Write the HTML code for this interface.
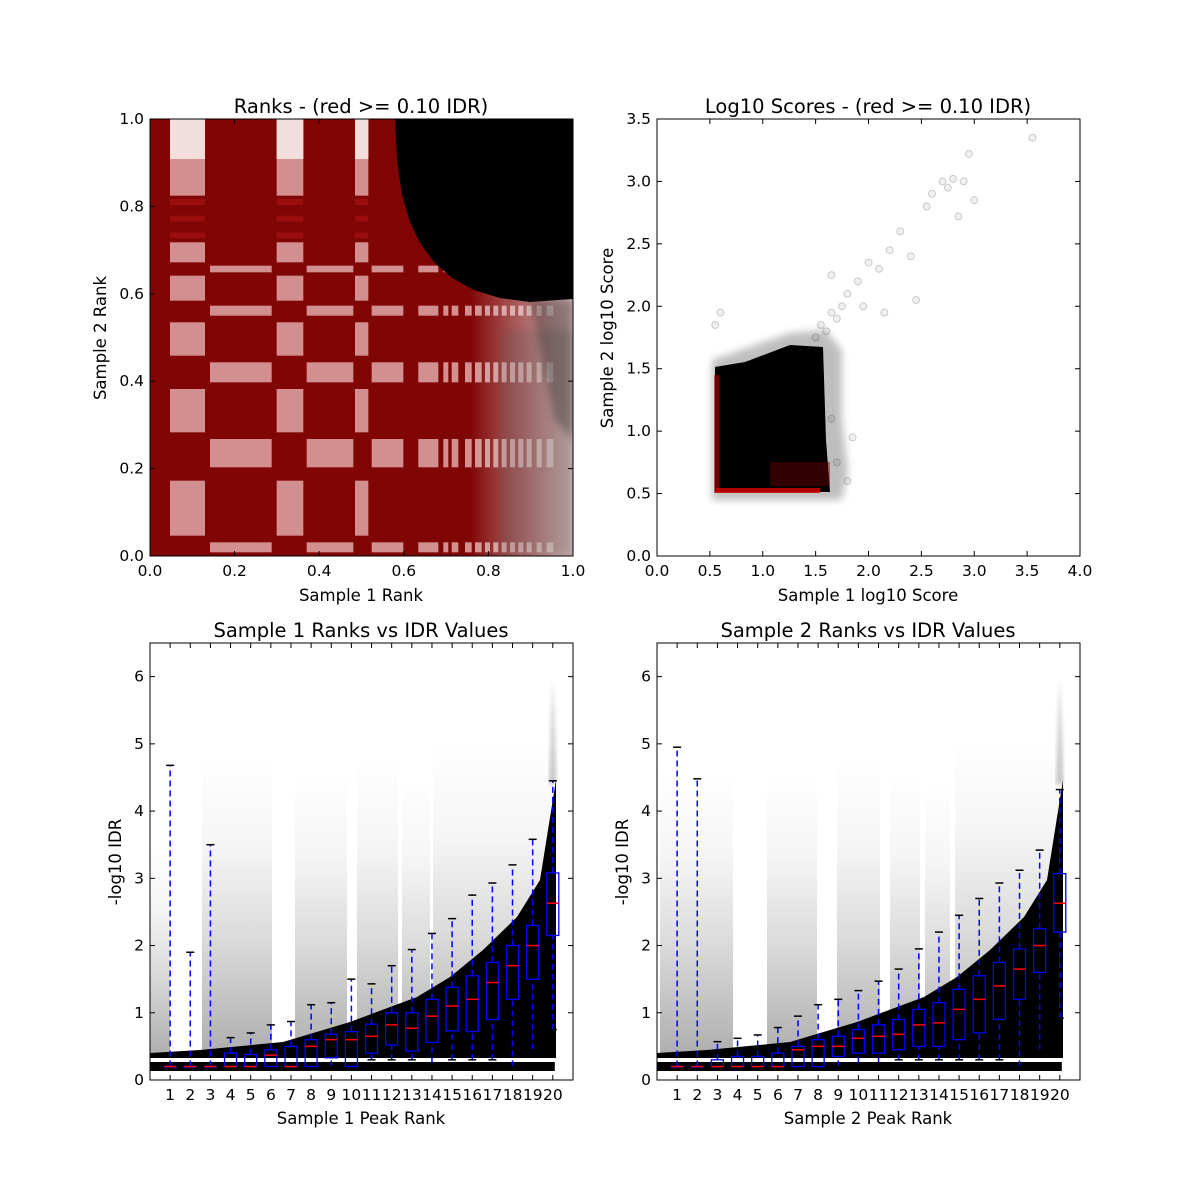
<!DOCTYPE html>
<html><head><meta charset="utf-8"><style>
html,body{margin:0;padding:0;background:#fff}
svg{display:block}
text{font-family:"DejaVu Sans","Liberation Sans",sans-serif;fill:#000}
</style></head><body>
<svg id="s" width="1200" height="1200" viewBox="0 0 1200 1200" xmlns="http://www.w3.org/2000/svg">
<defs>
<linearGradient id="gv" x1="0" y1="1" x2="0" y2="0">
<stop offset="0" stop-color="#000" stop-opacity="0.32"/>
<stop offset="0.4" stop-color="#000" stop-opacity="0.14"/>
<stop offset="0.7" stop-color="#000" stop-opacity="0.04"/>
<stop offset="1" stop-color="#000" stop-opacity="0"/>
</linearGradient>
<linearGradient id="gr" x1="0" y1="0" x2="1" y2="0">
<stop offset="0" stop-color="#fff" stop-opacity="0"/>
<stop offset="1" stop-color="#ddd" stop-opacity="0.8"/>
</linearGradient>
<clipPath id="c1"><rect x="150" y="119" width="423" height="437"/></clipPath>
<clipPath id="c3"><rect x="150" y="643" width="423" height="437"/></clipPath>
<clipPath id="c4"><rect x="657" y="643" width="423" height="437"/></clipPath>
<filter id="blur"><feGaussianBlur stdDeviation="2"/></filter>
<filter id="blur4"><feGaussianBlur stdDeviation="4"/></filter>
</defs>
<g id="tl" clip-path="url(#c1)"></g>
<g id="tr"></g>
<g id="bl" clip-path="url(#c3)"></g>
<g id="br" clip-path="url(#c4)"></g>
<g id="axes" fill="none" stroke="#000" stroke-width="1"></g>

<text x="361" y="113" font-size="19.5" text-anchor="middle">Ranks - (red &gt;= 0.10 IDR)</text>
<text x="868" y="113" font-size="19.5" text-anchor="middle">Log10 Scores - (red &gt;= 0.10 IDR)</text>
<text x="361" y="637" font-size="19.5" text-anchor="middle">Sample 1 Ranks vs IDR Values</text>
<text x="868" y="637" font-size="19.5" text-anchor="middle">Sample 2 Ranks vs IDR Values</text>

<text x="361" y="601" font-size="16.5" text-anchor="middle">Sample 1 Rank</text>
<text x="868" y="601" font-size="16.5" text-anchor="middle">Sample 1 log10 Score</text>
<text x="361" y="1124" font-size="16.5" text-anchor="middle">Sample 1 Peak Rank</text>
<text x="868" y="1124" font-size="16.5" text-anchor="middle">Sample 2 Peak Rank</text>

<text transform="translate(106,338) rotate(-90)" font-size="16.5" text-anchor="middle">Sample 2 Rank</text>
<text transform="translate(613,338) rotate(-90)" font-size="16.5" text-anchor="middle">Sample 2 log10 Score</text>
<text transform="translate(121,862) rotate(-90)" font-size="16.5" text-anchor="middle">-log10 IDR</text>
<text transform="translate(628,862) rotate(-90)" font-size="16.5" text-anchor="middle">-log10 IDR</text>

<g font-size="15.5">
<text x="150" y="576" text-anchor="middle">0.0</text><text x="234.6" y="576" text-anchor="middle">0.2</text><text x="319.2" y="576" text-anchor="middle">0.4</text><text x="403.8" y="576" text-anchor="middle">0.6</text><text x="488.4" y="576" text-anchor="middle">0.8</text><text x="573" y="576" text-anchor="middle">1.0</text>
<text x="144" y="561" text-anchor="end">0.0</text><text x="144" y="473.6" text-anchor="end">0.2</text><text x="144" y="386.2" text-anchor="end">0.4</text><text x="144" y="298.8" text-anchor="end">0.6</text><text x="144" y="211.4" text-anchor="end">0.8</text><text x="144" y="124" text-anchor="end">1.0</text>
<text x="657" y="576" text-anchor="middle">0.0</text><text x="709.9" y="576" text-anchor="middle">0.5</text><text x="762.8" y="576" text-anchor="middle">1.0</text><text x="815.6" y="576" text-anchor="middle">1.5</text><text x="868.5" y="576" text-anchor="middle">2.0</text><text x="921.4" y="576" text-anchor="middle">2.5</text><text x="974.3" y="576" text-anchor="middle">3.0</text><text x="1027.1" y="576" text-anchor="middle">3.5</text><text x="1080" y="576" text-anchor="middle">4.0</text>
<text x="651" y="561" text-anchor="end">0.0</text><text x="651" y="498.6" text-anchor="end">0.5</text><text x="651" y="436.1" text-anchor="end">1.0</text><text x="651" y="373.7" text-anchor="end">1.5</text><text x="651" y="311.3" text-anchor="end">2.0</text><text x="651" y="248.9" text-anchor="end">2.5</text><text x="651" y="186.4" text-anchor="end">3.0</text><text x="651" y="124" text-anchor="end">3.5</text>
<text x="144" y="1085" text-anchor="end">0</text><text x="144" y="1017.8" text-anchor="end">1</text><text x="144" y="950.5" text-anchor="end">2</text><text x="144" y="883.3" text-anchor="end">3</text><text x="144" y="816.1" text-anchor="end">4</text><text x="144" y="748.8" text-anchor="end">5</text><text x="144" y="681.6" text-anchor="end">6</text>
<text x="651" y="1085" text-anchor="end">0</text><text x="651" y="1017.8" text-anchor="end">1</text><text x="651" y="950.5" text-anchor="end">2</text><text x="651" y="883.3" text-anchor="end">3</text><text x="651" y="816.1" text-anchor="end">4</text><text x="651" y="748.8" text-anchor="end">5</text><text x="651" y="681.6" text-anchor="end">6</text>
</g>
<g font-size="15.5" text-anchor="middle">
<text x="170.1" y="1100">1</text><text x="190.3" y="1100">2</text><text x="210.4" y="1100">3</text><text x="230.6" y="1100">4</text><text x="250.7" y="1100">5</text><text x="270.9" y="1100">6</text><text x="291" y="1100">7</text><text x="311.1" y="1100">8</text><text x="331.3" y="1100">9</text><text x="351.4" y="1100">10</text><text x="371.6" y="1100">11</text><text x="391.7" y="1100">12</text><text x="411.9" y="1100">13</text><text x="432" y="1100">14</text><text x="452.1" y="1100">15</text><text x="472.3" y="1100">16</text><text x="492.4" y="1100">17</text><text x="512.6" y="1100">18</text><text x="532.7" y="1100">19</text><text x="552.9" y="1100">20</text>
<text x="677.1" y="1100">1</text><text x="697.3" y="1100">2</text><text x="717.4" y="1100">3</text><text x="737.6" y="1100">4</text><text x="757.7" y="1100">5</text><text x="777.9" y="1100">6</text><text x="798" y="1100">7</text><text x="818.1" y="1100">8</text><text x="838.3" y="1100">9</text><text x="858.4" y="1100">10</text><text x="878.6" y="1100">11</text><text x="898.7" y="1100">12</text><text x="918.9" y="1100">13</text><text x="939" y="1100">14</text><text x="959.1" y="1100">15</text><text x="979.3" y="1100">16</text><text x="999.4" y="1100">17</text><text x="1019.6" y="1100">18</text><text x="1039.7" y="1100">19</text><text x="1059.9" y="1100">20</text>
</g>
</svg>
<script>
var NS="http://www.w3.org/2000/svg";
function el(p,t,a){var e=document.createElementNS(NS,t);for(var k in a)e.setAttribute(k,a[k]);document.getElementById(p).appendChild(e);return e;}
// ---- top-left
el('tl','rect',{x:150,y:119,width:423,height:437,fill:'#800606'});
var zx=function(v){return 150+v/3}, zy=function(v){return 119+v/3};
var colA=[[60,165],[380,460],[615,655]], colB=[[180,365],[470,610],[665,760],[805,865],[880,895],[905,925],[945,965],[975,995],[1005,1020],[1030,1045],[1055,1070],[1080,1095],[1105,1120],[1130,1145],[1160,1175],[1190,1210]];
var rowA=[[0,230],[370,430],[470,545],[610,710],[810,940],[1085,1250]], rowB=[[440,460],[560,590],[730,790],[960,1045],[1270,1300]];
function cells(C,R){C.forEach(function(c){R.forEach(function(r){el('tl','rect',{x:zx(c[0]),y:zy(r[0]),width:(c[1]-c[0])/3,height:(r[1]-r[0])/3,fill:'#e2a8a8',opacity:0.85});});});}
cells(colA,rowA);cells(colB,rowB);
[[60,165],[380,460],[615,655]].forEach(function(c){el('tl','rect',{x:zx(c[0]),y:119,width:(c[1]-c[0])/3,height:40,fill:'#f3dede'});
 [240,290,340].forEach(function(r){el('tl','rect',{x:zx(c[0]),y:zy(r),width:(c[1]-c[0])/3,height:6,fill:'#a01010',opacity:0.8});});});
el('tl','rect',{x:470,y:290,width:103,height:266,fill:'url(#gr)'});
el('tl','rect',{x:500,y:330,width:73,height:226,fill:'#555',opacity:0.22,filter:'url(#blur4)'});
el('tl','path',{d:'M395,119 L397,160 L402,195 L410,222 L420,243 L434,262 L452,278 L474,290 L500,298 L530,302 L573,299 L573,119 Z',fill:'#000'});
el('tl','path',{d:'M530,300 L573,300 L573,440 L555,420 Z',fill:'#222',opacity:0.35,filter:'url(#blur4)'});
// ---- top-right
var tx=function(v){return 657+v*105.75}, ty=function(v){return 556-v*124.857};
el('tr','path',{d:'M712,360 L735,352 L790,333 L825,330 L842,350 L842,420 L848,470 L842,500 L712,500 Z',fill:'#000',opacity:0.25,filter:'url(#blur4)'});
el('tr','path',{d:'M715,367 L745,362 L790,345 L823,347 L826,440 L830,492 L715,492 Z',fill:'#000'});
el('tr','rect',{x:714,y:375,width:5,height:118,fill:'#b00000',opacity:0.6});
el('tr','rect',{x:716,y:488,width:104,height:5,fill:'#d00000',opacity:0.85});
el('tr','rect',{x:770,y:462,width:60,height:24,fill:'#6a0000',opacity:0.45});
var pts=[[1.5,1.75],[1.6,1.8],[1.7,1.9],[1.75,2.0],[1.8,2.1],[1.9,2.2],[1.95,2.0],[2.0,2.35],[2.1,2.3],[2.2,2.45],[2.3,2.6],[2.4,2.4],[2.55,2.8],[2.6,2.9],[2.7,3.0],[2.75,2.95],[2.8,3.02],[2.85,2.72],[2.95,3.22],[3.0,2.85],[3.55,3.35],[2.15,1.95],[2.45,2.05],[1.85,0.95],[1.65,1.1],[0.6,1.95],[0.55,1.85],[1.7,0.75],[1.8,0.6],[1.65,2.25],[2.9,3.0],[1.55,1.85],[1.65,1.95]];
pts.forEach(function(p){el('tr','circle',{cx:tx(p[0]),cy:ty(p[1]),r:3.5,fill:'#000','fill-opacity':0.06,stroke:'#000','stroke-opacity':0.18});});
// ---- bottom panels
function bottom(g,x0,cols,boxes,curve){
 var by=function(v){return 1080-v*67.23}, bx=function(i){return x0+20.14*i};
 cols.forEach(function(c){el(g,'rect',{x:c[0],y:by(c[2]),width:c[1]-c[0],height:by(0.35)-by(c[2]),fill:'url(#gv)'});});
 el(g,'rect',{x:x0,y:1062,width:bx(20)+2-x0,height:9,fill:'#000'});
 el(g,'path',{d:curve,fill:'#000'});
 el(g,'path',{d:'M'+(bx(20)-4)+','+by(4.4)+' L'+(bx(20))+','+by(6)+' L'+(bx(20)+4)+','+by(4.4)+' Z',fill:'#000',opacity:0.2,filter:'url(#blur)'});
 boxes.forEach(function(b,k){var i=k+1,x=bx(i),w=6;
  var q1=b[0],md=b[1],q3=b[2],hi=b[3],lo=b[4];
  el(g,'line',{x1:x,y1:by(q3),x2:x,y2:by(hi),stroke:'#00f','stroke-width':1.5,'stroke-dasharray':'6,4'});
  if(lo<q1)el(g,'line',{x1:x,y1:by(lo),x2:x,y2:by(q1),stroke:'#00f','stroke-width':1.5,'stroke-dasharray':'6,4'});
  el(g,'line',{x1:x-4,y1:by(hi),x2:x+4,y2:by(hi),stroke:'#000','stroke-width':1.5});
  if(lo<q1)el(g,'line',{x1:x-4,y1:by(lo),x2:x+4,y2:by(lo),stroke:'#000','stroke-width':1.5});
  el(g,'rect',{x:x-w,y:by(q3),width:2*w,height:Math.max(by(q1)-by(q3),0.5),fill:'none',stroke:'#00f','stroke-width':1.3});
  el(g,'line',{x1:x-w,y1:by(md),x2:x+w,y2:by(md),stroke:'#f00','stroke-width':1.5});
 });
}
var L=[[0.2,0.2,0.2,4.68,0.2],[0.2,0.2,0.2,1.9,0.2],[0.2,0.2,0.2,3.5,0.2],[0.2,0.2,0.4,0.63,0.2],[0.2,0.2,0.38,0.7,0.2],[0.2,0.37,0.45,0.82,0.2],[0.2,0.2,0.5,0.87,0.2],[0.2,0.5,0.6,1.12,0.2],[0.33,0.6,0.68,1.15,0.2],[0.2,0.6,0.72,1.5,0.2],[0.4,0.65,0.83,1.43,0.3],[0.52,0.82,1.0,1.7,0.3],[0.43,0.77,1.0,1.94,0.3],[0.56,0.95,1.2,2.18,0.25],[0.73,1.1,1.38,2.4,0.3],[0.72,1.2,1.55,2.75,0.3],[0.9,1.45,1.75,2.93,0.3],[1.2,1.7,2.0,3.2,0.2],[1.5,2.0,2.3,3.58,0.45],[2.15,2.63,3.08,4.45,0.75]];
var R=[[0.2,0.2,0.2,4.95,0.2],[0.2,0.2,0.2,4.48,0.2],[0.2,0.2,0.3,0.57,0.2],[0.2,0.2,0.35,0.62,0.2],[0.2,0.2,0.35,0.67,0.2],[0.2,0.2,0.4,0.78,0.2],[0.2,0.45,0.5,0.95,0.2],[0.2,0.5,0.6,1.12,0.2],[0.35,0.5,0.65,1.2,0.2],[0.4,0.62,0.75,1.33,0.25],[0.4,0.65,0.82,1.47,0.25],[0.45,0.68,0.9,1.65,0.3],[0.5,0.82,1.05,1.95,0.3],[0.5,0.85,1.15,2.2,0.3],[0.6,1.05,1.35,2.45,0.3],[0.7,1.2,1.55,2.7,0.3],[0.9,1.4,1.75,2.93,0.3],[1.2,1.65,1.95,3.12,0.2],[1.6,2.0,2.25,3.42,0.45],[2.2,2.63,3.07,4.32,0.92]];
function curv(o){var xs=[150,200,283,350,417,450,483,517,540,556],ys=[1053,1050,1042,1022,997,977,950,917,880,780];
 var d='M'+(xs[0]+o)+',1058';for(var i=0;i<xs.length;i++)d+=' L'+(xs[i]+o)+','+ys[i];d+=' L'+(556+o)+',1058 Z';return d;}
bottom('bl',150,[[150,170,3.5],[202,272,4.8],[295,347,4.6],[357,398,4.8],[402,430,4.5],[433,556,5.0]],L,curv(0));
bottom('br',657,[[660,733,4.6],[767,817,4.6],[837,880,4.8],[890,920,4.6],[925,950,4.4],[955,1063,5.1]],R,curv(507));
function frame(x0,y0,w,h,xt,yt){
 el('axes','rect',{x:x0,y:y0,width:w,height:h});
 xt.forEach(function(x){el('axes','line',{x1:x,y1:y0+h,x2:x,y2:y0+h-5});el('axes','line',{x1:x,y1:y0,x2:x,y2:y0+5});});
 yt.forEach(function(y){el('axes','line',{x1:x0,y1:y,x2:x0+5,y2:y});el('axes','line',{x1:x0+w,y1:y,x2:x0+w-5,y2:y});});
}
function rng(a,b,n){var r=[];for(var i=0;i<n;i++)r.push(a+(b-a)*i/(n-1));return r;}
frame(150,119,423,437,rng(150,573,6),rng(119,556,6));
frame(657,119,423,437,rng(657,1080,9),rng(119,556,8));
var bx1=[],bx2=[],byt=[];for(var i=1;i<=20;i++){bx1.push(150+20.14*i);bx2.push(657+20.14*i);}for(var j=0;j<=6;j++)byt.push(1080-67.23*j);
frame(150,643,423,437,bx1,byt);frame(657,643,423,437,bx2,byt);
</script>
</body></html>
